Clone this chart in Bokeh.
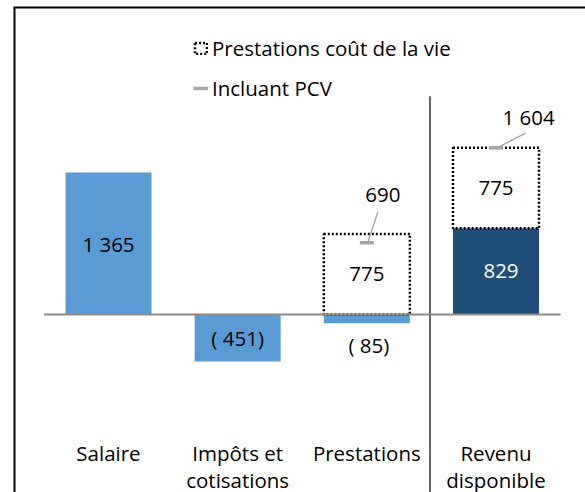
from bokeh.plotting import figure
from bokeh.models import ColumnDataSource, Legend, LegendItem
from bokeh.embed import file_html
from bokeh.resources import INLINE
from bokeh.core.properties import value

# ---------------- data ----------------
categories = ["Salaire", "Impôts et\ncotisations", "Prestations", "Revenu\ndisponible"]
base_values = [1365, -451, -85, 829]          # main bars
pcv_values = [0, 0, 775, 775]                 # prestations coût de la vie (dotted boxes)
incl_values = [None, None, 690, 1604]         # totals including PCV (grey ticks)
legend_labels = ["Prestations coût de la vie", "Incluant PCV"]

# ---------------- style ----------------
bar_colors = ["#5B9BD5", "#5B9BD5", "#5B9BD5", "#1F4E79"]
FONT = value("Open Sans")
FS = "20.5px"
W, H = 585, 492
X0 = 43.4      # px x of left edge of first category
PXX = 129.17   # px per category
Y0 = 314.0     # px y of zero line
PXY = 0.104    # px per unit

def xpage(px):
    return (px - X0) / PXX

def ypage(py):
    return (Y0 - py) / PXY

x_start, x_end = xpage(0), xpage(W)
y_start, y_end = ypage(H), ypage(0)

def fmt(v):
    s = f"{abs(v):,}".replace(",", " ")
    return f"( {s})" if v < 0 else s

n = len(categories)
centers = [i + 0.5 for i in range(n)]
BW = 0.666

p = figure(width=W, height=H, x_range=(x_start, x_end), y_range=(y_start, y_end),
           output_backend="svg", toolbar_location=None,
           x_axis_location=None, y_axis_location=None,
           min_border=0, min_border_left=0, min_border_right=0,
           min_border_top=0, min_border_bottom=0)
p.grid.visible = False
p.outline_line_color = None
p.background_fill_color = "white"
p.border_fill_color = "white"

# frame border (left + top)
p.segment(x0=[xpage(14), xpage(13)], x1=[xpage(14), x_end],
          y0=[y_start, ypage(7)], y1=[ypage(7), ypage(7)],
          line_color="black", line_width=2)

# separator before "Revenu disponible"
p.segment(x0=[xpage(429.5)], x1=[xpage(429.5)], y0=[y_start], y1=[ypage(95.7)],
          line_color="black", line_width=1.2)

# main bars
bars = ColumnDataSource(dict(x=centers, top=base_values, color=bar_colors))
p.vbar(x="x", top="top", bottom=0, width=BW, source=bars,
       fill_color="color", line_color=None)

# PCV dotted boxes
pcv_idx = [i for i in range(n) if pcv_values[i]]
pcv_src = ColumnDataSource(dict(
    x=[centers[i] for i in pcv_idx],
    bottom=[max(base_values[i], 0) for i in pcv_idx],
    top=[max(base_values[i], 0) + pcv_values[i] for i in pcv_idx],
    val=[pcv_values[i] for i in pcv_idx],
))
pcv_r = p.vbar(x="x", bottom="bottom", top="top", width=BW, source=pcv_src,
               fill_color="white", line_color="black", line_dash="2 2", line_width=2.5)

# zero line
p.segment(x0=[0], x1=[n], y0=[0], y1=[0], line_color="#8C8C8C", line_width=2)

# grey ticks "Incluant PCV"
inc_idx = [i for i in range(n) if incl_values[i] is not None]
TICK = 7 / PXX
tick_src = ColumnDataSource(dict(
    x0=[centers[i] - TICK for i in inc_idx],
    x1=[centers[i] + TICK for i in inc_idx],
    y=[incl_values[i] for i in inc_idx],
))
tick_r = p.segment(x0="x0", x1="x1", y0="y", y1="y", source=tick_src,
                   line_color="#A5A5A5", line_width=3.5)

# leader lines and labels for ticks (pixel offsets)
lead_start = [(1.4, -1.6), (2.5, -0.5)]
lead_end = [(11.0, -30.6), (29.5, -14.5)]
lab_off = [(16.0, -48.0), (32.5, -31.0)]
p.segment(
    x0=[centers[i] + lead_start[k][0] / PXX for k, i in enumerate(inc_idx)],
    x1=[centers[i] + lead_end[k][0] / PXX for k, i in enumerate(inc_idx)],
    y0=[incl_values[i] - lead_start[k][1] / PXY for k, i in enumerate(inc_idx)],
    y1=[incl_values[i] - lead_end[k][1] / PXY for k, i in enumerate(inc_idx)],
    line_color="#A5A5A5", line_width=1.4)
p.text(x=[centers[i] + lab_off[k][0] / PXX for k, i in enumerate(inc_idx)],
       y=[incl_values[i] - lab_off[k][1] / PXY for k, i in enumerate(inc_idx)],
       text=[fmt(incl_values[i]) for i in inc_idx],
       text_font=FONT, text_font_size=FS, text_color="black",
       text_align="center", text_baseline="middle")

# labels inside / near main bars
pos_light = [i for i in range(n) if base_values[i] > 0 and bar_colors[i] == "#5B9BD5"]
neg_big = [i for i in range(n) if base_values[i] < 0 and abs(base_values[i]) > 200]
neg_small = [i for i in range(n) if base_values[i] < 0 and abs(base_values[i]) <= 200]
dark = [i for i in range(n) if bar_colors[i] == "#1F4E79"]

p.text(x=[centers[i] for i in pos_light + neg_big],
       y=[base_values[i] / 2 for i in pos_light + neg_big],
       text=[fmt(base_values[i]) for i in pos_light + neg_big],
       text_font=FONT, text_font_size=FS, text_color="black",
       text_align="center", text_baseline="middle")
p.text(x=[centers[i] for i in neg_small], y=[base_values[i] for i in neg_small],
       text=[fmt(base_values[i]) for i in neg_small], y_offset=22, x_offset=2,
       text_font=FONT, text_font_size=FS, text_color="black",
       text_align="center", text_baseline="middle")
p.text(x=[centers[i] for i in dark], y=[base_values[i] / 2 for i in dark],
       text=[fmt(base_values[i]) for i in dark], x_offset=5,
       text_font=FONT, text_font_size=FS, text_color="white",
       text_align="center", text_baseline="middle")
p.text(x="x", y="mid", text="lab", source=ColumnDataSource(dict(
           x=pcv_src.data["x"],
           mid=[(b + t) / 2 for b, t in zip(pcv_src.data["bottom"], pcv_src.data["top"])],
           lab=[fmt(v) for v in pcv_src.data["val"]])),
       text_font=FONT, text_font_size=FS, text_color="black",
       text_align="center", text_baseline="middle")

# category labels
line1 = [c.split("\n")[0] for c in categories]
line2 = [c.split("\n")[1] if "\n" in c else "" for c in categories]
p.text(x=centers, y=[ypage(452)] * n, text=line1, text_font=FONT, text_font_size=FS,
       text_color="black", text_align="center", text_baseline="middle")
p.text(x=centers, y=[ypage(479)] * n, text=line2, text_font=FONT, text_font_size=FS,
       text_color="black", text_align="center", text_baseline="middle")

# legend
legend = Legend(items=[LegendItem(label=legend_labels[0], renderers=[pcv_r]),
                       LegendItem(label=legend_labels[1], renderers=[tick_r])],
                location=(193, H - 34 - 68),
                label_text_font="Open Sans", label_text_font_size=FS,
                label_text_color="black", glyph_width=15, glyph_height=14,
                label_standoff=4, spacing=12, padding=0, margin=0,
                border_line_color=None, background_fill_alpha=0)
p.add_layout(legend)

open("out.html", "w").write(file_html(p, INLINE))
